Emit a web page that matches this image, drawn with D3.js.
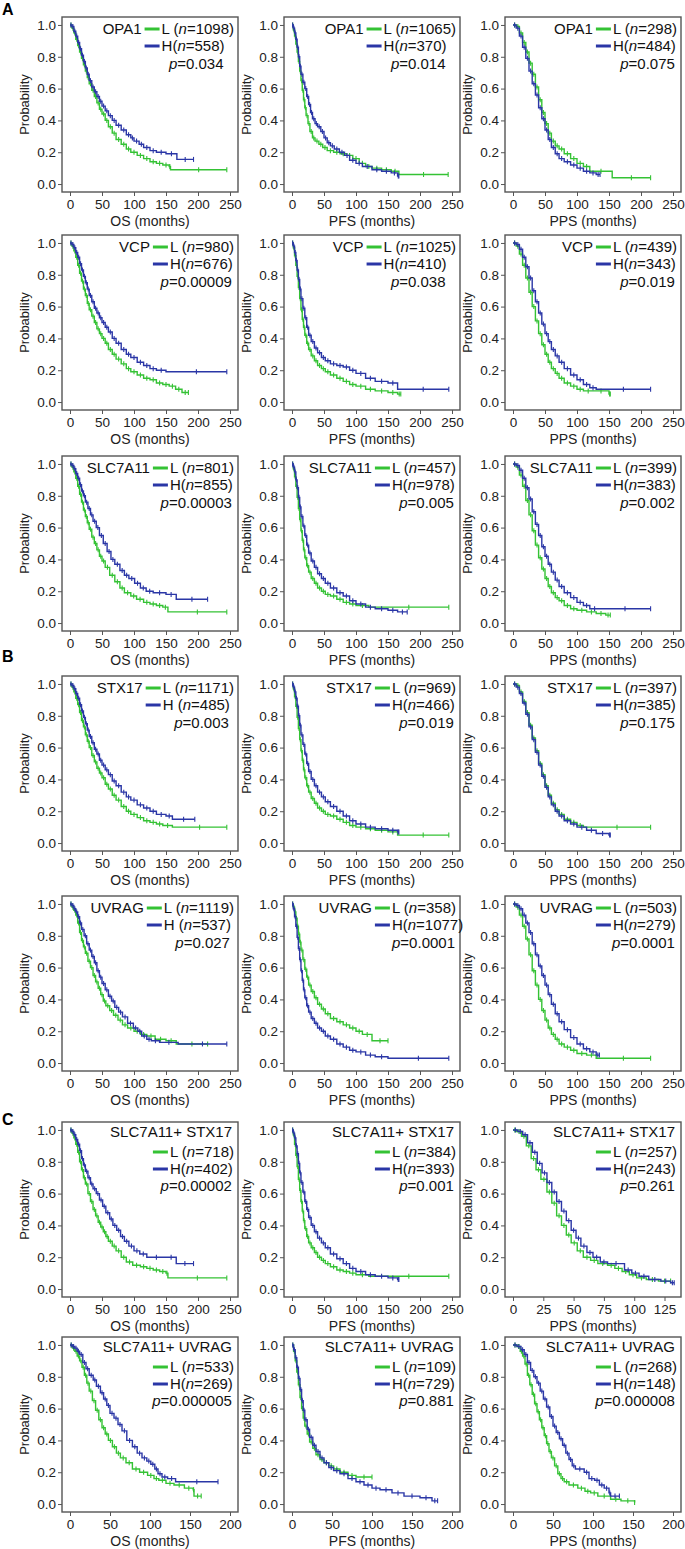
<!DOCTYPE html>
<html>
<head>
<meta charset="utf-8">
<script src="https://cdn.jsdelivr.net/npm/d3@7"></script>
<style>
  body { margin: 0; background: #fff; }
  svg { font-family: "Liberation Sans", Arial, sans-serif; }
</style>
</head>
<body>
<svg width="685" height="1549"></svg>
<script>
// rows = gene sets, columns = OS / PFS / PPS
const GENES = ["OPA1", "VCP", "SLC7A11", "STX17", "UVRAG", "SLC7A11+ STX17", "SLC7A11+ UVRAG"];
const ENDPOINTS = ["OS", "PFS", "PPS"];
const N_LOW = [[1098, 1065, 298], [980, 1025, 439], [801, 457, 399], [1171, 969, 397], [1119, 358, 503], [718, 384, 257], [533, 109, 268]];
const N_HIGH = [[558, 370, 484], [676, 410, 343], [855, 978, 383], [485, 466, 385], [537, 1077, 279], [402, 393, 243], [269, 729, 148]];
const P_VALUES = [["0.034", "0.014", "0.075"], ["0.00009", "0.038", "0.019"], ["0.00003", "0.005", "0.002"], ["0.003", "0.019", "0.175"], ["0.027", "0.0001", "0.0001"], ["0.00002", "0.001", "0.261"], ["0.000005", "0.881", "0.000008"]];
const H_SPACED = [[false, false, false], [false, false, false], [false, false, false], [true, false, false], [true, false, false], [false, false, false], [false, false, false]];
const TICKS_250 = [0, 50, 100, 150, 200, 250];
const TICKS_200 = [0, 50, 100, 150, 200];
const TICKS_125 = [0, 25, 50, 75, 100, 125];
const X_TICKS = [
  [TICKS_250, TICKS_250, TICKS_250], [TICKS_250, TICKS_250, TICKS_250], [TICKS_250, TICKS_250, TICKS_250],
  [TICKS_250, TICKS_250, TICKS_250], [TICKS_250, TICKS_250, TICKS_250], [TICKS_250, TICKS_250, TICKS_125],
  [TICKS_200, TICKS_200, TICKS_200]
];
const X_MAX = [[250, 250, 250], [250, 250, 250], [250, 250, 250], [250, 250, 250], [250, 250, 250], [250, 250, 132], [200, 200, 200]];
const Y_TICKS = [0, 0.2, 0.4, 0.6, 0.8, 1.0];

// [months, survival] step points, [OS, PFS, PPS]
const OPA1_L = [
  [[0,1],[3,0.98],[6,0.95],[9,0.91],[12,0.87],[15,0.83],[18,0.79],[21,0.75],[24,0.71],[27,0.67],[30,0.63],[34,0.59],[38,0.55],[42,0.51],[46,0.47],[50,0.44],[55,0.40],[60,0.36],[66,0.32],[72,0.28],[80,0.25],[88,0.22],[95,0.20],[105,0.18],[115,0.16],[125,0.14],[135,0.13],[145,0.12],[155,0.11],[157,0.09],[245,0.09]],
  [[0,1],[2,0.97],[4,0.93],[6,0.88],[8,0.83],[10,0.77],[12,0.71],[14,0.65],[16,0.59],[18,0.53],[20,0.48],[22,0.43],[25,0.38],[28,0.33],[32,0.29],[36,0.27],[42,0.25],[48,0.23],[55,0.21],[65,0.20],[75,0.19],[85,0.18],[95,0.16],[105,0.13],[115,0.11],[125,0.10],[140,0.09],[155,0.08],[167,0.06],[244,0.06]],
  [[0,1],[5,0.99],[10,0.95],[15,0.89],[20,0.83],[25,0.76],[30,0.69],[35,0.61],[40,0.53],[45,0.45],[50,0.38],[55,0.32],[60,0.27],[66,0.24],[72,0.22],[80,0.19],[90,0.16],[100,0.13],[110,0.11],[120,0.08],[155,0.04],[215,0.04]]
];
const OPA1_H = [
  [[0,1],[3,0.99],[6,0.96],[9,0.93],[12,0.89],[15,0.85],[18,0.81],[21,0.77],[24,0.73],[27,0.69],[30,0.65],[34,0.61],[38,0.58],[42,0.55],[46,0.52],[50,0.49],[55,0.46],[60,0.43],[66,0.40],[72,0.37],[80,0.34],[88,0.31],[95,0.29],[100,0.27],[108,0.25],[115,0.23],[125,0.21],[135,0.20],[150,0.19],[167,0.155],[193,0.155]],
  [[0,1],[2,0.98],[4,0.95],[6,0.91],[8,0.86],[10,0.80],[12,0.74],[14,0.69],[17,0.64],[20,0.60],[23,0.55],[26,0.50],[29,0.45],[32,0.41],[36,0.38],[40,0.36],[45,0.33],[50,0.29],[55,0.26],[60,0.24],[66,0.22],[74,0.20],[82,0.18],[90,0.15],[100,0.13],[110,0.11],[125,0.09],[140,0.08],[155,0.07],[165,0.05],[167,0.05]],
  [[0,1],[5,0.98],[10,0.93],[15,0.86],[20,0.79],[25,0.71],[30,0.63],[35,0.56],[40,0.48],[45,0.41],[50,0.34],[55,0.28],[60,0.23],[66,0.19],[72,0.16],[80,0.14],[90,0.12],[100,0.10],[110,0.08],[120,0.07],[130,0.06],[136,0.06]]
];
const VCP_L = [
  [[0,1],[3,0.98],[6,0.95],[9,0.91],[12,0.86],[15,0.81],[18,0.76],[21,0.71],[24,0.67],[27,0.62],[30,0.58],[34,0.54],[38,0.50],[42,0.46],[46,0.43],[50,0.40],[55,0.37],[60,0.33],[66,0.30],[72,0.27],[80,0.24],[88,0.21],[95,0.19],[105,0.17],[115,0.15],[125,0.14],[135,0.12],[145,0.11],[155,0.10],[165,0.08],[175,0.06],[185,0.06]],
  [[0,1],[2,0.97],[4,0.92],[6,0.86],[8,0.79],[10,0.72],[12,0.65],[14,0.58],[16,0.52],[18,0.47],[20,0.42],[23,0.37],[26,0.33],[30,0.29],[35,0.26],[40,0.23],[46,0.21],[52,0.19],[60,0.17],[70,0.15],[80,0.13],[90,0.11],[100,0.10],[115,0.08],[130,0.07],[150,0.06],[165,0.05],[170,0.05]],
  [[0,1],[5,0.98],[10,0.93],[15,0.86],[20,0.78],[25,0.69],[30,0.60],[35,0.51],[40,0.43],[45,0.36],[50,0.30],[55,0.25],[60,0.21],[66,0.18],[72,0.15],[80,0.12],[90,0.10],[100,0.08],[110,0.07],[125,0.07],[150,0.05],[152,0.05]]
];
const VCP_H = [
  [[0,1],[3,0.99],[6,0.97],[9,0.94],[12,0.91],[15,0.87],[18,0.83],[21,0.79],[24,0.75],[27,0.71],[30,0.67],[34,0.63],[38,0.59],[42,0.56],[46,0.53],[50,0.50],[55,0.47],[60,0.44],[66,0.40],[72,0.37],[80,0.33],[88,0.30],[95,0.28],[105,0.25],[115,0.23],[125,0.21],[135,0.20],[150,0.19],[245,0.19]],
  [[0,1],[2,0.98],[4,0.94],[6,0.89],[8,0.83],[10,0.77],[12,0.71],[14,0.65],[17,0.59],[20,0.53],[23,0.47],[26,0.42],[30,0.38],[35,0.34],[40,0.31],[46,0.28],[52,0.26],[60,0.24],[70,0.23],[80,0.22],[90,0.20],[100,0.18],[115,0.15],[130,0.13],[150,0.12],[165,0.08],[245,0.08]],
  [[0,1],[5,0.99],[10,0.96],[15,0.91],[20,0.85],[25,0.78],[30,0.70],[35,0.63],[40,0.56],[45,0.49],[50,0.43],[55,0.38],[60,0.33],[66,0.29],[72,0.25],[80,0.21],[90,0.17],[100,0.14],[110,0.11],[120,0.09],[130,0.08],[215,0.08]]
];
const SLC7A11_L = [
  [[0,1],[3,0.98],[6,0.95],[9,0.91],[12,0.86],[15,0.81],[18,0.76],[21,0.71],[24,0.67],[27,0.63],[30,0.59],[34,0.54],[38,0.50],[42,0.46],[46,0.42],[50,0.39],[55,0.35],[62,0.30],[70,0.26],[78,0.22],[85,0.19],[95,0.17],[104,0.15],[115,0.13],[125,0.12],[135,0.11],[145,0.10],[153,0.07],[245,0.07]],
  [[0,1],[2,0.97],[4,0.92],[6,0.86],[8,0.79],[10,0.72],[12,0.65],[14,0.58],[16,0.52],[18,0.46],[20,0.41],[23,0.36],[26,0.32],[30,0.28],[35,0.25],[40,0.22],[46,0.20],[52,0.18],[60,0.17],[70,0.15],[80,0.13],[90,0.12],[100,0.11],[120,0.10],[245,0.10]],
  [[0,1],[5,0.98],[10,0.93],[15,0.86],[20,0.77],[25,0.68],[30,0.58],[35,0.49],[40,0.41],[45,0.34],[50,0.28],[55,0.23],[60,0.19],[66,0.16],[72,0.14],[80,0.11],[90,0.09],[100,0.08],[115,0.07],[130,0.06],[145,0.05],[152,0.05]]
];
const SLC7A11_H = [
  [[0,1],[3,0.99],[6,0.97],[9,0.94],[12,0.91],[15,0.87],[18,0.83],[21,0.80],[24,0.76],[28,0.72],[32,0.68],[36,0.64],[41,0.60],[46,0.55],[52,0.50],[58,0.45],[64,0.40],[70,0.37],[78,0.33],[85,0.30],[92,0.28],[101,0.25],[110,0.22],[119,0.20],[130,0.19],[150,0.18],[166,0.15],[215,0.15]],
  [[0,1],[2,0.98],[4,0.95],[6,0.90],[8,0.85],[10,0.79],[12,0.73],[14,0.67],[17,0.61],[20,0.55],[23,0.49],[26,0.44],[30,0.39],[35,0.35],[40,0.31],[46,0.28],[52,0.25],[60,0.22],[70,0.19],[80,0.17],[90,0.14],[100,0.12],[115,0.10],[130,0.09],[150,0.08],[165,0.07],[180,0.07]],
  [[0,1],[5,0.99],[10,0.96],[15,0.91],[20,0.85],[25,0.78],[30,0.70],[35,0.62],[40,0.55],[45,0.48],[50,0.42],[55,0.37],[60,0.32],[66,0.27],[72,0.23],[80,0.19],[90,0.16],[100,0.13],[110,0.11],[120,0.09],[135,0.09],[215,0.09]]
];
const STX17_L = [
  [[0,1],[3,0.98],[6,0.95],[9,0.91],[12,0.87],[15,0.82],[18,0.77],[21,0.73],[24,0.68],[27,0.64],[30,0.60],[34,0.55],[38,0.51],[42,0.47],[46,0.44],[50,0.41],[55,0.37],[60,0.34],[66,0.30],[72,0.27],[80,0.23],[88,0.20],[95,0.18],[105,0.16],[115,0.14],[125,0.13],[135,0.12],[145,0.11],[160,0.10],[245,0.10]],
  [[0,1],[2,0.97],[4,0.92],[6,0.86],[8,0.79],[10,0.72],[12,0.65],[14,0.58],[16,0.52],[18,0.46],[20,0.41],[23,0.36],[26,0.32],[30,0.28],[35,0.25],[40,0.22],[46,0.20],[52,0.18],[60,0.17],[70,0.15],[80,0.13],[90,0.11],[100,0.10],[115,0.09],[130,0.08],[150,0.07],[165,0.05],[245,0.05]],
  [[0,1],[5,0.99],[10,0.95],[15,0.89],[20,0.82],[25,0.74],[30,0.66],[35,0.58],[40,0.50],[45,0.43],[50,0.36],[55,0.30],[60,0.25],[66,0.21],[72,0.18],[80,0.15],[90,0.13],[100,0.11],[110,0.10],[215,0.10]]
];
const STX17_H = [
  [[0,1],[3,0.99],[6,0.97],[9,0.94],[12,0.91],[15,0.87],[18,0.83],[21,0.79],[24,0.75],[27,0.71],[30,0.67],[34,0.63],[38,0.59],[42,0.56],[46,0.52],[50,0.49],[55,0.46],[60,0.43],[66,0.39],[72,0.36],[80,0.32],[88,0.29],[95,0.27],[105,0.24],[115,0.22],[125,0.20],[135,0.18],[150,0.17],[160,0.15],[195,0.15]],
  [[0,1],[2,0.98],[4,0.95],[6,0.91],[8,0.86],[10,0.80],[12,0.74],[14,0.68],[17,0.62],[20,0.56],[23,0.50],[26,0.45],[30,0.40],[35,0.36],[40,0.32],[46,0.29],[52,0.26],[60,0.23],[70,0.20],[80,0.17],[90,0.14],[100,0.12],[115,0.10],[130,0.09],[150,0.08],[165,0.07],[167,0.07]],
  [[0,1],[5,0.98],[10,0.94],[15,0.88],[20,0.81],[25,0.73],[30,0.65],[35,0.57],[40,0.49],[45,0.42],[50,0.35],[55,0.29],[60,0.24],[66,0.20],[72,0.17],[80,0.14],[90,0.12],[100,0.10],[115,0.08],[130,0.06],[150,0.05],[152,0.05]]
];
const UVRAG_L = [
  [[0,1],[3,0.98],[6,0.96],[9,0.93],[12,0.88],[15,0.82],[18,0.77],[21,0.73],[24,0.69],[28,0.64],[32,0.60],[36,0.55],[40,0.51],[44,0.47],[48,0.43],[52,0.39],[56,0.36],[62,0.33],[68,0.30],[75,0.27],[82,0.24],[90,0.22],[100,0.20],[110,0.18],[120,0.17],[133,0.15],[150,0.14],[166,0.12],[215,0.12]],
  [[0,1],[2,0.98],[4,0.95],[6,0.91],[8,0.86],[10,0.81],[12,0.76],[14,0.71],[17,0.65],[20,0.59],[23,0.54],[26,0.49],[30,0.45],[35,0.41],[40,0.37],[46,0.34],[52,0.31],[60,0.28],[70,0.26],[80,0.24],[90,0.22],[100,0.20],[110,0.18],[125,0.14],[150,0.14]],
  [[0,1],[5,0.98],[10,0.93],[15,0.86],[20,0.78],[25,0.68],[30,0.58],[35,0.49],[40,0.40],[45,0.33],[50,0.27],[55,0.22],[60,0.18],[66,0.15],[72,0.12],[80,0.10],[90,0.08],[100,0.06],[115,0.05],[130,0.03],[215,0.03]]
];
const UVRAG_H = [
  [[0,1],[3,0.99],[6,0.97],[9,0.95],[12,0.92],[15,0.88],[18,0.84],[22,0.80],[26,0.75],[30,0.71],[34,0.67],[38,0.63],[42,0.58],[46,0.54],[50,0.50],[55,0.46],[60,0.42],[65,0.39],[70,0.35],[76,0.32],[82,0.29],[90,0.25],[99,0.22],[106,0.20],[112,0.17],[120,0.15],[127,0.14],[140,0.13],[169,0.12],[245,0.12]],
  [[0,1],[2,0.97],[4,0.92],[6,0.86],[8,0.79],[10,0.72],[12,0.65],[14,0.58],[16,0.52],[18,0.46],[20,0.41],[23,0.36],[26,0.32],[30,0.28],[35,0.25],[40,0.22],[46,0.20],[52,0.17],[60,0.15],[70,0.12],[80,0.10],[90,0.08],[100,0.07],[115,0.05],[130,0.04],[150,0.03],[245,0.03]],
  [[0,1],[5,0.99],[10,0.97],[15,0.93],[20,0.88],[25,0.82],[30,0.75],[35,0.68],[40,0.61],[45,0.55],[50,0.49],[55,0.43],[60,0.37],[66,0.31],[72,0.26],[80,0.21],[90,0.16],[100,0.12],[110,0.09],[120,0.07],[130,0.05],[135,0.05]]
];
const SLC_STX_L = [
  [[0,1],[3,0.98],[6,0.95],[9,0.91],[12,0.86],[15,0.80],[18,0.75],[21,0.70],[24,0.66],[28,0.60],[32,0.55],[36,0.50],[40,0.46],[44,0.42],[48,0.39],[52,0.36],[56,0.33],[60,0.30],[66,0.27],[72,0.24],[80,0.20],[88,0.17],[98,0.15],[110,0.14],[120,0.13],[130,0.12],[140,0.11],[150,0.10],[153,0.07],[245,0.07]],
  [[0,1],[2,0.97],[4,0.91],[6,0.84],[8,0.77],[10,0.69],[12,0.62],[14,0.55],[16,0.49],[18,0.43],[20,0.38],[23,0.33],[26,0.29],[30,0.26],[35,0.23],[40,0.20],[46,0.18],[52,0.16],[60,0.14],[70,0.12],[80,0.11],[90,0.10],[100,0.09],[120,0.08],[245,0.08]],
  [[0,1],[3,0.99],[7,0.96],[11,0.90],[15,0.82],[19,0.75],[23,0.69],[28,0.61],[32,0.54],[36,0.46],[40,0.40],[44,0.34],[48,0.29],[53,0.24],[58,0.20],[64,0.18],[70,0.16],[78,0.15],[84,0.13],[90,0.11],[96,0.09],[102,0.07],[110,0.06],[120,0.05],[130,0.05]]
];
const SLC_STX_H = [
  [[0,1],[3,0.99],[6,0.97],[9,0.94],[12,0.91],[15,0.87],[18,0.82],[21,0.78],[24,0.74],[28,0.70],[32,0.66],[36,0.63],[41,0.60],[46,0.56],[51,0.52],[56,0.48],[62,0.44],[67,0.40],[73,0.37],[79,0.33],[85,0.30],[92,0.27],[100,0.24],[109,0.22],[120,0.20],[150,0.20],[166,0.16],[193,0.16]],
  [[0,1],[2,0.98],[4,0.95],[6,0.90],[8,0.85],[10,0.79],[12,0.73],[14,0.67],[17,0.61],[20,0.55],[23,0.50],[26,0.45],[30,0.40],[35,0.36],[40,0.32],[46,0.29],[52,0.26],[60,0.22],[70,0.19],[80,0.16],[90,0.13],[100,0.11],[115,0.09],[130,0.08],[150,0.07],[165,0.06],[167,0.06]],
  [[0,1],[4,0.99],[8,0.97],[12,0.92],[16,0.86],[20,0.79],[24,0.73],[28,0.67],[32,0.61],[36,0.55],[40,0.49],[44,0.43],[48,0.37],[52,0.32],[56,0.27],[61,0.23],[66,0.20],[72,0.17],[78,0.16],[92,0.12],[98,0.10],[104,0.08],[112,0.06],[122,0.05],[130,0.04],[133,0.04]]
];
const SLC_UVRAG_L = [
  [[0,1],[3,0.98],[6,0.96],[9,0.93],[12,0.90],[15,0.86],[18,0.81],[21,0.76],[24,0.71],[28,0.65],[32,0.59],[36,0.53],[40,0.48],[44,0.44],[48,0.40],[53,0.36],[58,0.32],[63,0.29],[70,0.26],[78,0.22],[87,0.20],[97,0.18],[105,0.16],[111,0.15],[120,0.13],[130,0.12],[143,0.10],[154,0.09],[155,0.05],[164,0.05]],
  [[0,1],[2,0.96],[4,0.90],[6,0.83],[8,0.75],[10,0.67],[12,0.60],[14,0.54],[16,0.49],[19,0.44],[22,0.39],[26,0.35],[30,0.31],[35,0.28],[40,0.26],[46,0.24],[52,0.22],[60,0.20],[70,0.18],[80,0.17],[100,0.17]],
  [[0,1],[5,0.99],[9,0.96],[12,0.93],[15,0.88],[18,0.81],[21,0.75],[24,0.69],[27,0.63],[30,0.58],[33,0.53],[36,0.48],[39,0.43],[42,0.38],[45,0.33],[48,0.29],[52,0.24],[56,0.19],[60,0.16],[64,0.14],[70,0.12],[81,0.10],[90,0.08],[97,0.07],[106,0.05],[122,0.03],[135,0.02],[152,0.01]]
];
const SLC_UVRAG_H = [
  [[0,1],[3,0.99],[6,0.98],[9,0.96],[12,0.94],[16,0.89],[20,0.85],[24,0.81],[29,0.78],[33,0.74],[38,0.70],[42,0.66],[46,0.62],[50,0.57],[55,0.54],[60,0.50],[65,0.46],[71,0.40],[78,0.36],[84,0.32],[90,0.29],[96,0.27],[101,0.25],[106,0.22],[110,0.19],[115,0.17],[122,0.16],[132,0.14],[185,0.14]],
  [[0,1],[2,0.97],[4,0.92],[6,0.86],[8,0.79],[10,0.72],[12,0.65],[14,0.59],[16,0.53],[19,0.47],[22,0.42],[26,0.37],[30,0.33],[35,0.29],[40,0.26],[46,0.23],[52,0.21],[60,0.19],[70,0.16],[80,0.14],[90,0.12],[100,0.10],[110,0.09],[125,0.07],[140,0.05],[160,0.04],[175,0.02],[182,0.02]],
  [[0,1],[5,0.99],[10,0.97],[14,0.94],[18,0.89],[22,0.84],[26,0.80],[30,0.76],[34,0.71],[38,0.66],[42,0.61],[46,0.55],[50,0.49],[54,0.45],[58,0.41],[62,0.37],[66,0.32],[70,0.28],[74,0.24],[78,0.22],[89,0.20],[95,0.16],[102,0.15],[108,0.12],[114,0.10],[120,0.07],[122,0.05],[133,0.05]]
];
const CURVES_L = [OPA1_L, VCP_L, SLC7A11_L, STX17_L, UVRAG_L, SLC_STX_L, SLC_UVRAG_L];
const CURVES_H = [OPA1_H, VCP_H, SLC7A11_H, STX17_H, UVRAG_H, SLC_STX_H, SLC_UVRAG_H];

const GREEN = "#34c234";
const BLUE = "#2a36a6";
const AXIS = "#555";

const main = function() {
  const svg = d3.select("svg");
  const rowTops = [17, 235, 456, 676, 896, 1122, 1337];
  const colLefts = [62, 284, 505];
  const boxW = 176;
  const boxH = 175;

  svg.selectAll("text.letter")
    .data([["A", 15], ["B", 662], ["C", 1125]])
    .enter()
    .append("text")
    .attr("class", "letter")
    .attr("x", 2)
    .attr("y", d => d[1])
    .attr("font-size", 16)
    .attr("font-weight", "bold")
    .text(d => d[0]);

  const line = (x, y) => d3.line().x(d => x(d[0])).y(d => y(d[1])).curve(d3.curveStepAfter);

  GENES.forEach((gene, r) => {
    ENDPOINTS.forEach((ep, c) => {
      const g = svg.append("g").attr("transform", `translate(${colLefts[c]},${rowTops[r]})`);
      const xMax = X_MAX[r][c];
      const x = d3.scaleLinear().domain([-0.05 * xMax, 1.05 * xMax]).range([0, boxW]);
      const y = d3.scaleLinear().domain([-0.05, 1.05]).range([boxH, 0]);

      const yAxis = g.append("g").call(
        d3.axisLeft(y).tickValues(Y_TICKS).tickFormat(d3.format(".1f")).tickSize(4).tickPadding(2)
      );
      const xAxis = g.append("g").attr("transform", `translate(0,${boxH})`).call(
        d3.axisBottom(x).tickValues(X_TICKS[r][c]).tickSize(4).tickPadding(3)
      );
      [yAxis, xAxis].forEach(a => {
        a.select(".domain").remove();
        a.selectAll("line").attr("stroke", AXIS);
        a.selectAll("text").attr("font-size", 13.5).attr("fill", "#222")
          .style("font-family", '"Liberation Sans", Arial, sans-serif');
      });

      g.append("rect")
        .attr("width", boxW)
        .attr("height", boxH)
        .attr("fill", "none")
        .attr("stroke", AXIS)
        .attr("stroke-width", 1.4);

      g.append("text")
        .attr("transform", `translate(-33,${boxH / 2}) rotate(-90)`)
        .attr("text-anchor", "middle")
        .attr("font-size", 13)
        .attr("fill", "#222")
        .text("Probability");

      g.append("text")
        .attr("x", boxW / 2)
        .attr("y", boxH + 34)
        .attr("text-anchor", "middle")
        .attr("font-size", 14)
        .attr("fill", "#222")
        .text(`${ep} (months)`);

      [[CURVES_L[r][c], GREEN], [CURVES_H[r][c], BLUE]].forEach(([pts, col]) => {
        g.append("path")
          .attr("d", line(x, y)(pts))
          .attr("fill", "none")
          .attr("stroke", col)
          .attr("stroke-width", 1.4);
        const marks = pts.slice(1).map((p, i) => [(pts[i][0] + p[0]) / 2, pts[i][1]]);
        marks.push(pts[pts.length - 1]);
        g.selectAll(null)
          .data(marks)
          .enter()
          .append("line")
          .attr("x1", d => x(d[0]))
          .attr("x2", d => x(d[0]))
          .attr("y1", d => y(d[1]) - 2.5)
          .attr("y2", d => y(d[1]) + 2.5)
          .attr("stroke", col)
          .attr("stroke-width", 1.1);
      });

      // legend
      const combo = gene.includes("+");
      const fs = 15;
      const right = boxW - 4;
      const yL = combo ? 35 : 17;
      const yH = combo ? 52 : 34;
      const yP = combo ? 69 : 52;

      const addNText = (yy, prefix, n) => {
        const t = g.append("text").attr("y", yy).attr("font-size", fs).attr("fill", "#111");
        t.append("tspan").text(prefix);
        t.append("tspan").attr("font-style", "italic").text("n");
        t.append("tspan").text(`=${n})`);
        return t;
      };
      const lt = addNText(yL, "L (", N_LOW[r][c]);
      const lw = lt.node().getComputedTextLength();
      const tx = right - lw;
      lt.attr("x", tx);
      const ht = addNText(yH, H_SPACED[r][c] ? "H (" : "H(", N_HIGH[r][c]);
      ht.attr("x", tx);
      const hw = ht.node().getComputedTextLength();

      [[yL, GREEN], [yH, BLUE]].forEach(([yy, col]) => {
        g.append("line")
          .attr("x1", tx - 17)
          .attr("x2", tx - 2)
          .attr("y1", yy - 5)
          .attr("y2", yy - 5)
          .attr("stroke", col)
          .attr("stroke-width", 3);
      });

      if (combo) {
        g.append("text")
          .attr("x", right - 2)
          .attr("y", 15)
          .attr("text-anchor", "end")
          .attr("font-size", fs)
          .attr("fill", "#111")
          .text(gene);
      } else {
        g.append("text")
          .attr("x", tx - 20)
          .attr("y", yL)
          .attr("text-anchor", "end")
          .attr("font-size", fs)
          .attr("fill", "#111")
          .text(gene);
      }

      const pt = g.append("text")
        .attr("x", Math.min(tx + hw, right) - 1)
        .attr("y", yP)
        .attr("text-anchor", "end")
        .attr("font-size", fs)
        .attr("fill", "#111");
      pt.append("tspan").attr("font-style", "italic").text("p");
      pt.append("tspan").text(`=${P_VALUES[r][c]}`);
    });
  });
};

window.onload = main;
</script>
</body>
</html>
